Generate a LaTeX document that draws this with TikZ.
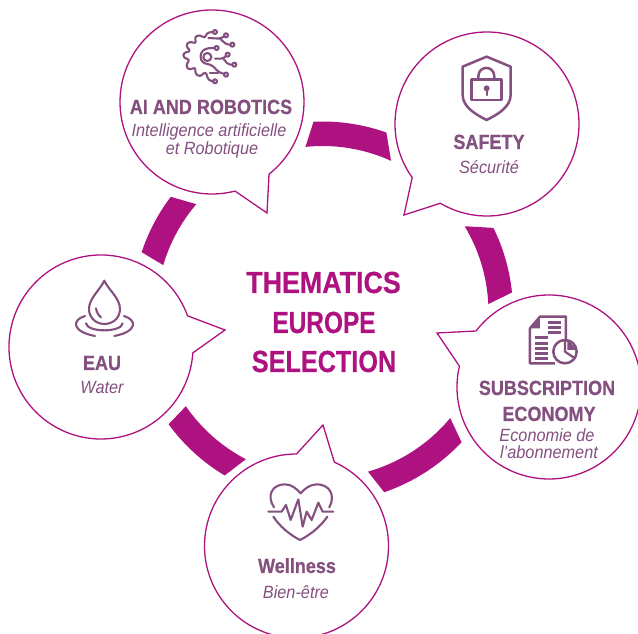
\documentclass[tikz,border=0pt]{standalone}
\usepackage{fontspec}
\setmainfont[FakeStretch=0.88,BoldFeatures={FakeBold=0.5}]{Liberation Sans}
\newfontfamily\subfont[FakeStretch=0.92]{Liberation Sans}
\definecolor{mag}{HTML}{AE1280}
\definecolor{plum}{HTML}{84507F}
\tikzset{
  bubble/.style={draw=mag,line width=1.3pt,fill=white,line join=miter},
  band/.style={fill=mag,draw=none},
  ttl/.style={anchor=base,inner sep=0pt,text=plum,font=\fontsize{20.5}{24}\selectfont\bfseries},
  subttl/.style={anchor=base,inner sep=0pt,text=plum,font=\subfont\fontsize{17.7}{20}\selectfont\itshape},
  big/.style={anchor=base,inner sep=0pt,text=mag,font=\fontsize{30.5}{34}\selectfont\bfseries},
  icon/.style={draw=plum,line width=2.3pt,line cap=round,line join=round},
  thinicon/.style={icon,line width=2.1pt},
  zoomA/.style={shift={(175pt,612pt)},x=0.3333pt,y=-0.3333pt},
  zoomB/.style={shift={(390pt,614pt)},x=0.3333pt,y=-0.3333pt},
  zoomC/.style={shift={(430pt,344pt)},x=0.3333pt,y=-0.3333pt},
  zoomD/.style={shift={(200pt,214pt)},x=0.3333pt,y=-0.3333pt},
  zoomE/.style={shift={(0pt,384pt)},x=0.3333pt,y=-0.3333pt},
}
\newcommand{\ringband}[4]{%
  \fill[band] ([shift={(#1:190.5pt)}]ring) arc[start angle=#1,end angle=#2,radius=190.5pt]
    -- ([shift={(#3:166pt)}]ring) arc[start angle=#3,end angle=#4,radius=166pt] -- cycle;}
\newcommand{\bubblepath}[4]{%
  \draw[bubble] ([shift={(#2:92pt)}]#1) arc[start angle=#2,end angle=#3,radius=92pt] -- (#4) -- cycle;}
\begin{document}
\begin{tikzpicture}[x=1pt,y=1pt]
\useasboundingbox (0,0) rectangle (638,634);
\coordinate (ring) at (322.5,322);
% ring bands
\ringband{92.7}{70.4}{65.6}{95.9}
\ringband{26.2}{5.9}{2.7}{31.1}
\ringband{-43.1}{-71.1}{-74.1}{-39.7}
\ringband{239.1}{216.1}{214.6}{242.5}
\ringband{161.7}{142.8}{139.5}{163.6}
% bubbles
\coordinate (cai) at (212,532);   \coordinate (tai) at (267,421);
\coordinate (csa) at (487,510);   \coordinate (tsa) at (404,419);
\coordinate (csu) at (549,247);   \coordinate (tsu) at (437,301);
\coordinate (cwe) at (296.5,88);  \coordinate (twe) at (323,209);
\coordinate (cea) at (101,287);   \coordinate (tea) at (225,304);
\bubblepath{cai}{-51.7}{284.5}{tai}
\bubblepath{csa}{239.5}{575.6}{tsa}
\bubblepath{csu}{166.9}{502.5}{tsu}
\bubblepath{cwe}{90}{425.7}{twe}
\bubblepath{cea}{19.8}{356.3}{tea}
% centre title
\node[big] (t1) at (323.5,341) {THEMATICS};
\node[big,xscale=0.91] (t2) at (324,301) {EUROPE};
\node[big,xscale=0.94] (t3) at (324,262) {SELECTION};
% labels
\node[ttl] (ai1) at (211,520) {AI AND ROBOTICS};
\node[subttl] (ai2) at (209,497) {Intelligence artificielle};
\node[subttl] (ai3) at (212,479) {et Robotique};
\node[ttl] (sa1) at (489,485) {SAFETY};
\node[subttl] (sa2) at (489,460) {Sécurité};
\node[ttl] (su1) at (547,239) {SUBSCRIPTION};
\node[ttl] (su2) at (549,213) {ECONOMY};
\node[subttl] (su3) at (547,192) {Economie de};
\node[subttl] (su4) at (549,175) {l’abonnement};
\node[ttl] (we1) at (297,61) {Wellness};
\node[subttl] (we2) at (296,35) {Bien-être};
\node[ttl] (ea1) at (102,264) {EAU};
\node[subttl] (ea2) at (102,240) {Water};
% AI icon
\begin{scope}[zoomA]
  \draw[thinicon,rounded corners=3pt] (115,30)--(95,32)--(90,50)--(75,38)--(58,45)--(65,65)--(42,58)--(32,72)--(48,88)--(25,92)--(25,108)--(45,112)--(32,130)--(42,145)--(62,135)--(60,155)--(75,165)--(92,148)--(100,175)--(115,178);
  \draw[thinicon] (97,105) circle[radius=12];
  \draw[thinicon,rounded corners=3pt] (119,78)--(100,78)--(82,85)--(75,103)--(82,122)--(112,130)--(130,150)--(148,156);
  \draw[thinicon,rounded corners=2pt] (100,48)--(135,50)--(148,43);
  \draw[thinicon,rounded corners=2pt] (135,50)--(155,68)--(165,68);
  \draw[thinicon,rounded corners=2pt] (120,110)--(145,110)--(153,102);
  \draw[thinicon,rounded corners=2pt] (145,110)--(160,128)--(171,128);
  \draw[thinicon] (105,152)--(130,152);
  \foreach \px/\py/\nm in {120/30/a,153/40/b,172/68/c,125/78/d,158/98/e,178/128/f,153/158/g,120/178/h}
    \draw[thinicon] (\px,\py) circle[radius=6];
\end{scope}
% shield icon
\begin{scope}[zoomB]
  \draw[icon,line width=2.5pt] (290,110)--(362,140)--(362,225) .. controls (362,262) and (320,285) .. (290,300) .. controls (260,285) and (218,262) .. (218,225)--(218,140)--cycle;
  \draw[icon,line width=2.5pt] (245,178) rectangle (335,240);
  \draw[icon,line width=2.5pt] (265,178)--(265,170) .. controls (265,135) and (313,135) .. (313,170)--(313,178);
  \fill[plum] (290,205) circle[radius=9];
  \draw[icon] (290,205)--(290,225);
\end{scope}
% document icon
\begin{scope}[zoomC]
  \draw[icon,line width=2.5pt,line cap=butt] (375,220)--(300,220)--(300,115)--(330,80)--(408,80)--(408,150);
  \fill[plum] (330,80)--(330,115)--(300,115)--cycle;
  \foreach \yy/\xe in {97/393,112/393,127/393}
    \draw[icon,line width=2.5pt,line cap=butt] (355,\yy)--(\xe,\yy);
  \foreach \yy/\xe in {143/355,160/355,175/355,190/355,205/355}
    \draw[icon,line width=2.5pt,line cap=butt] (315,\yy)--(\xe,\yy);
  \draw[icon,line width=2.5pt] (405,185) circle[radius=35];
  \draw[icon] (405,152)--(405,185)--(435,205);
  \fill[plum] (412,150)--(442,180)--(412,180)--cycle;
\end{scope}
% heart icon
\begin{scope}[zoomD]
  \draw[thinicon] (222,262) .. controls (198,225) and (218,193) .. (255,193) .. controls (275,193) and (292,208) .. (302,220) .. controls (312,208) and (330,193) .. (350,193) .. controls (388,193) and (408,225) .. (388,262);
  \draw[thinicon] (220,290) .. controls (240,320) and (270,345) .. (300,360) .. controls (330,345) and (362,320) .. (382,290);
  \draw[thinicon] (205,275)--(245,275)--(258,255)--(272,300)--(295,238)--(308,320)--(320,275)--(335,300)--(355,248)--(368,275)--(400,275);
\end{scope}
% drop icon
\begin{scope}[zoomE]
  \draw[thinicon] (313,92) .. controls (300,120) and (267,145) .. (267,177) .. controls (267,205) and (290,222) .. (313,222) .. controls (338,222) and (360,205) .. (360,177) .. controls (360,145) and (326,120) .. (313,92) -- cycle;
  \draw[thinicon] (288,175) .. controls (290,187) and (296,197) .. (303,202);
  \draw[thinicon] (255,198) .. controls (215,210) and (215,245) .. (285,258);
  \draw[thinicon] (372,198) .. controls (412,210) and (412,245) .. (343,258);
  \draw[thinicon] (258,220) .. controls (262,248) and (364,248) .. (368,220);
\end{scope}
\end{tikzpicture}
\end{document}
